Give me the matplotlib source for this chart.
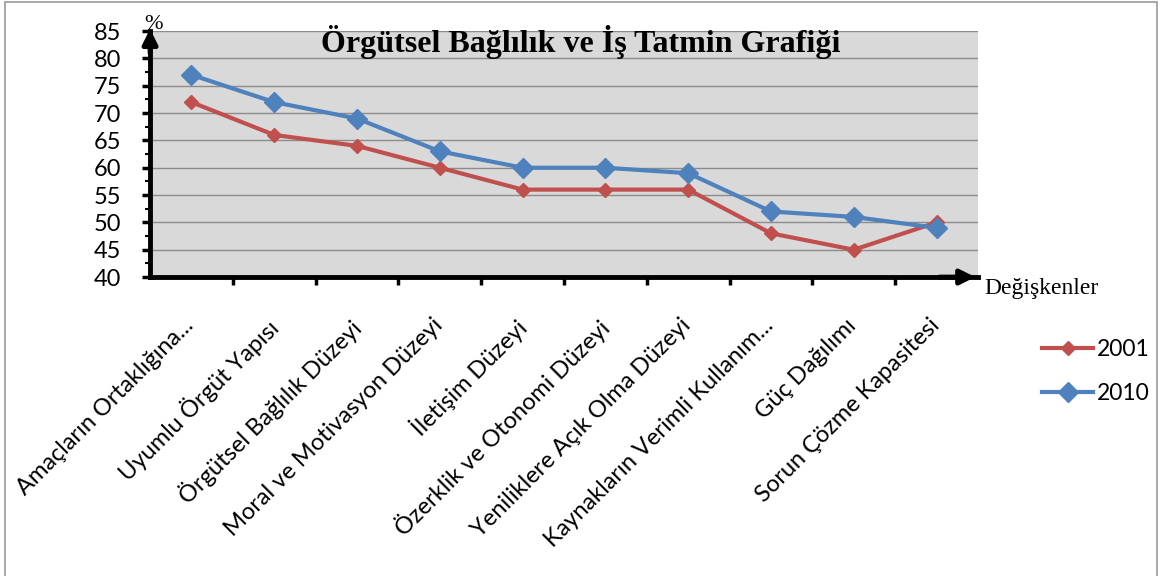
import matplotlib.pyplot as plt
from matplotlib.patches import Rectangle
from matplotlib.ticker import MultipleLocator
from matplotlib.transforms import ScaledTranslation

categories = [
    "Amaçların Ortaklığına...",
    "Uyumlu Örgüt Yapısı",
    "Örgütsel Bağlılık Düzeyi",
    "Moral ve Motivasyon Düzeyi",
    "İletişim Düzeyi",
    "Özerklik ve Otonomi Düzeyi",
    "Yeniliklere Açık Olma Düzeyi",
    "Kaynakların Verimli Kullanım...",
    "Güç Dağılımı",
    "Sorun Çözme Kapasitesi",
]
values_2001 = [72, 66, 64, 60, 56, 56, 56, 48, 45, 50]
values_2010 = [77, 72, 69, 63, 60, 60, 59, 52, 51, 49]

red = "#C0504D"
blue = "#4F81BD"
label_font = ["Lato", "DejaVu Sans"]
serif_font = ["Liberation Serif", "DejaVu Serif"]

fig = plt.figure(figsize=(11.65, 5.76), dpi=100)
fig.patches.append(Rectangle((0.004, -0.1), 0.989, 1.097, transform=fig.transFigure,
                             fill=False, edgecolor="#9a9a9a", linewidth=1.2))

ax = fig.add_axes([0.1288, 0.519, 0.7107, 0.427])
ax.set_facecolor("#D9D9D9")
x = list(range(len(categories)))

ax.plot(x, values_2001, color=red, linewidth=3, marker="D", markersize=7, label="2001", zorder=3)
ax.plot(x, values_2010, color=blue, linewidth=3, marker="D", markersize=10.5, label="2010", zorder=4)

ax.set_xlim(-0.5, len(categories) - 0.5)
ax.set_ylim(40, 85)
ax.yaxis.set_major_locator(MultipleLocator(5))
ax.yaxis.set_minor_locator(MultipleLocator(2.5))
ax.grid(axis="y", which="major", color="#8c8c8c", linewidth=1)
ax.set_axisbelow(True)

# category boundaries carry the tick marks, labels sit at the points
ax.set_xticks([i + 0.5 for i in x[:-1]], minor=False)
ax.set_xticklabels([])
ax.set_xticks(x, minor=True)
ax.set_xticklabels(categories, minor=True, rotation=45, ha="right", va="top",
                   rotation_mode="anchor", fontsize=17, family=label_font)
ax.tick_params(axis="x", which="minor", length=0, pad=27)
ax.tick_params(axis="x", which="major", length=6, width=2.5, direction="out", color="black")
ax.tick_params(axis="y", which="major", length=6, width=2.5, labelsize=17, pad=15)
ax.tick_params(axis="y", which="minor", length=3.5, width=1.5)
for lbl in ax.get_yticklabels():
    lbl.set_family(label_font)
shift = ScaledTranslation(-6 / 72, 0, fig.dpi_scale_trans)
for lbl in ax.get_xticklabels(minor=True):
    lbl.set_transform(lbl.get_transform() + shift)

for side in ["top", "right"]:
    ax.spines[side].set_visible(False)
for side in ["left", "bottom"]:
    ax.spines[side].set_linewidth(3.5)

# arrow heads on both axes
ax.annotate("", xy=(1.0, 0), xytext=(0.95, 0), xycoords="axes fraction",
            arrowprops=dict(arrowstyle="-|>", color="black", lw=3.5, mutation_scale=22),
            annotation_clip=False)
ax.annotate("", xy=(0, 1.02), xytext=(0, 0.9), xycoords="axes fraction",
            arrowprops=dict(arrowstyle="-|>", color="black", lw=3.5, mutation_scale=22),
            annotation_clip=False)

ax.text(0.004, 0.99, "%", transform=ax.transAxes, fontsize=16, family=serif_font,
        ha="center", va="bottom")
ax.text(1.008, -0.045, "Değişkenler", transform=ax.transAxes, fontsize=17, family=serif_font,
        ha="left", va="center")
ax.text(0.52, 0.955, "Örgütsel Bağlılık ve İş Tatmin Grafiği", transform=ax.transAxes,
        fontsize=23, fontweight="bold", family=serif_font, ha="center", va="center")

fig.legend(loc="center left", bbox_to_anchor=(0.877, 0.355), frameon=False,
           prop={"family": label_font, "size": 16.5}, handlelength=2.2, handletextpad=0.2,
           labelspacing=1.0)

fig.savefig("out.png", dpi=100)
